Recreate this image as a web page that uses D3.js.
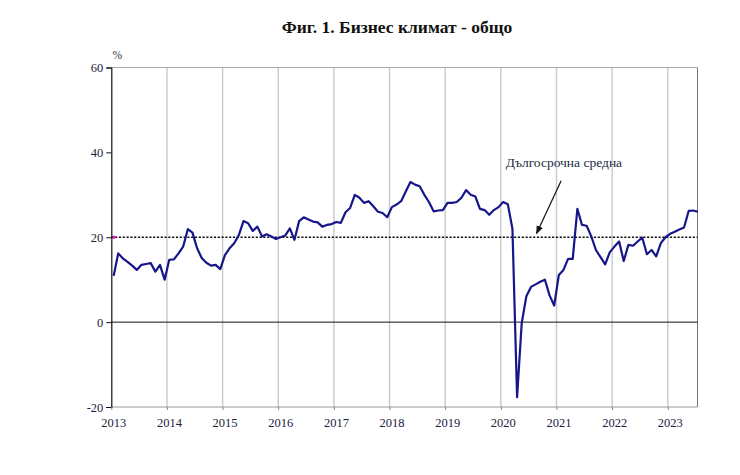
<!DOCTYPE html>
<html><head><meta charset="utf-8">
<script src="https://cdn.jsdelivr.net/npm/d3@7"></script>
<style>body{margin:0;background:#fff}svg{display:block}</style></head>
<body><svg id="c" width="740" height="475"></svg>
<script>
// ---- data ----
const yearLabels = ["2013","2014","2015","2016","2017","2018","2019","2020","2021","2022","2023"];
const yTicks = [-20, 0, 20, 40, 60];
const longTermAverage = 20;
const v2013 = [10.9, 16.2, 15.0, 14.2, 13.3, 12.3, 13.5, 13.7, 13.9, 11.9, 13.5, 10.0];
const v2014 = [14.7, 14.8, 16.2, 17.8, 21.9, 21.1, 17.4, 15.1, 14.0, 13.3, 13.5, 12.5];
const v2015 = [15.8, 17.4, 18.6, 20.5, 23.8, 23.3, 21.5, 22.5, 20.2, 20.7, 20.2, 19.6];
const v2016 = [20.0, 20.4, 22.1, 19.4, 23.8, 24.7, 24.2, 23.7, 23.5, 22.5, 22.9, 23.1];
const v2017 = [23.6, 23.4, 25.9, 26.9, 30.0, 29.3, 28.1, 28.5, 27.3, 26.0, 25.7, 24.7];
const v2018 = [27.1, 27.7, 28.5, 30.8, 33.0, 32.4, 32.0, 30.0, 28.3, 26.1, 26.3, 26.4];
const v2019 = [28.1, 28.1, 28.3, 29.3, 31.1, 30.0, 29.6, 26.7, 26.4, 25.3, 26.4, 27.1];
const v2020 = [28.3, 27.8, 22.0, -17.7, -0.2, 6.1, 8.3, 8.9, 9.5, 10.0, 6.3, 3.9];
const v2021 = [11.1, 12.3, 14.9, 14.9, 26.7, 22.9, 22.7, 20.2, 17.0, 15.3, 13.6, 16.5];
const v2022 = [17.8, 19.0, 14.4, 18.2, 18.0, 19.0, 19.9, 16.0, 17.0, 15.5, 18.6, 20.0];
const v2023 = [20.8, 21.3, 21.8, 22.3, 26.2, 26.3, 26.0];
const titleText = "Фиг. 1. Бизнес климат - общо";
const annotationText = "Дългосрочна средна";

const series = [].concat(v2013, v2014, v2015, v2016, v2017, v2018, v2019, v2020, v2021, v2022, v2023);

// ---- layout ----
const svg = d3.select("#c");
const L = 111.3, R = 697.5, T = 67.5, B = 407;
const monthsSpan = (R - L) / (556.5 / 120);
const x = d3.scaleLinear().domain([0, monthsSpan]).range([L, R]);
const y = d3.scaleLinear().domain([-20, 60]).range([B, T]);
const serif = "'Liberation Serif','Times New Roman',serif";

// title
svg.append("text").attr("x", 397).attr("y", 33).attr("text-anchor", "middle")
  .attr("font-family", serif).attr("font-weight", "bold").attr("font-size", 17.5)
  .attr("fill", "#111").text(titleText);

// vertical year gridlines
const yearIdx = yearLabels.map((d, i) => i * 12);
svg.append("g").selectAll("line").data(yearIdx.slice(1)).join("line")
  .attr("x1", d => x(d)).attr("x2", d => x(d)).attr("y1", T).attr("y2", B)
  .attr("stroke", "#c9c9c9").attr("stroke-width", 1.4);

// frame top / right / bottom
svg.append("line").attr("x1", L).attr("x2", R).attr("y1", T).attr("y2", T).attr("stroke", "#aaa").attr("stroke-width", 1);
svg.append("line").attr("x1", R).attr("x2", R).attr("y1", T).attr("y2", B).attr("stroke", "#777").attr("stroke-width", 1);
svg.append("line").attr("x1", L).attr("x2", R).attr("y1", B).attr("y2", B).attr("stroke", "#999").attr("stroke-width", 1);

// zero line
svg.append("line").attr("x1", L).attr("x2", R).attr("y1", y(0)).attr("y2", y(0))
  .attr("stroke", "#111").attr("stroke-width", 1);

// long-term average dashed line
svg.append("line").attr("x1", L).attr("x2", R).attr("y1", y(longTermAverage)).attr("y2", y(longTermAverage))
  .attr("stroke", "#111").attr("stroke-width", 1.6).attr("stroke-dasharray", "2.2,1.6");
svg.append("rect").attr("x", L + 1).attr("y", y(longTermAverage) - 1.5).attr("width", 3).attr("height", 3).attr("fill", "#e020c0");

// y axis
const yAxis = d3.axisLeft(y).tickValues(yTicks).tickSize(5).tickPadding(3).tickFormat(d => String(d));
const gy = svg.append("g").attr("transform", `translate(${L},0)`).call(yAxis);
gy.select(".domain").attr("stroke", "#111").attr("stroke-width", 1.2);
gy.selectAll(".tick line").attr("stroke", "#111");
gy.selectAll("text").attr("font-family", serif).attr("font-size", 12.5).attr("fill", "#1a2240");

// x axis
const xAxis = d3.axisBottom(x).tickValues(yearIdx).tickSize(3).tickPadding(8).tickFormat((d, i) => yearLabels[i]);
const gx = svg.append("g").attr("transform", `translate(0,${B})`).call(xAxis);
gx.select(".domain").remove();
gx.selectAll(".tick line").attr("stroke", "#888");
gx.selectAll("text").attr("font-family", serif).attr("font-size", 12.5).attr("fill", "#1a2240").attr("dx", 2);

// % label
svg.append("text").attr("x", L + 6).attr("y", 59).attr("text-anchor", "middle")
  .attr("font-family", serif).attr("font-size", 11.5).attr("fill", "#333").text("%");

// series line
const line = d3.line().x((d, i) => x(i + 0.5)).y(d => y(d));
svg.append("path").datum(series).attr("d", line).attr("fill", "none")
  .attr("stroke", "#16168a").attr("stroke-width", 2.2).attr("stroke-linejoin", "round");

// annotation
svg.append("defs").append("marker").attr("id", "arr").attr("viewBox", "0 0 10 10")
  .attr("refX", 9).attr("refY", 5).attr("markerWidth", 7).attr("markerHeight", 7).attr("orient", "auto")
  .append("path").attr("d", "M0,1 L10,5 L0,9 Z").attr("fill", "#111");
svg.append("line").attr("x1", x(97.0)).attr("y1", y(33.3)).attr("x2", x(91.7)).attr("y2", y(20.9))
  .attr("stroke", "#111").attr("stroke-width", 1.2).attr("marker-end", "url(#arr)");
svg.append("text").attr("x", x(97.6)).attr("y", y(36.6)).attr("text-anchor", "middle")
  .attr("font-family", serif).attr("font-size", 13.5).attr("fill", "#1a2a40").text(annotationText);
</script>
</body></html>
